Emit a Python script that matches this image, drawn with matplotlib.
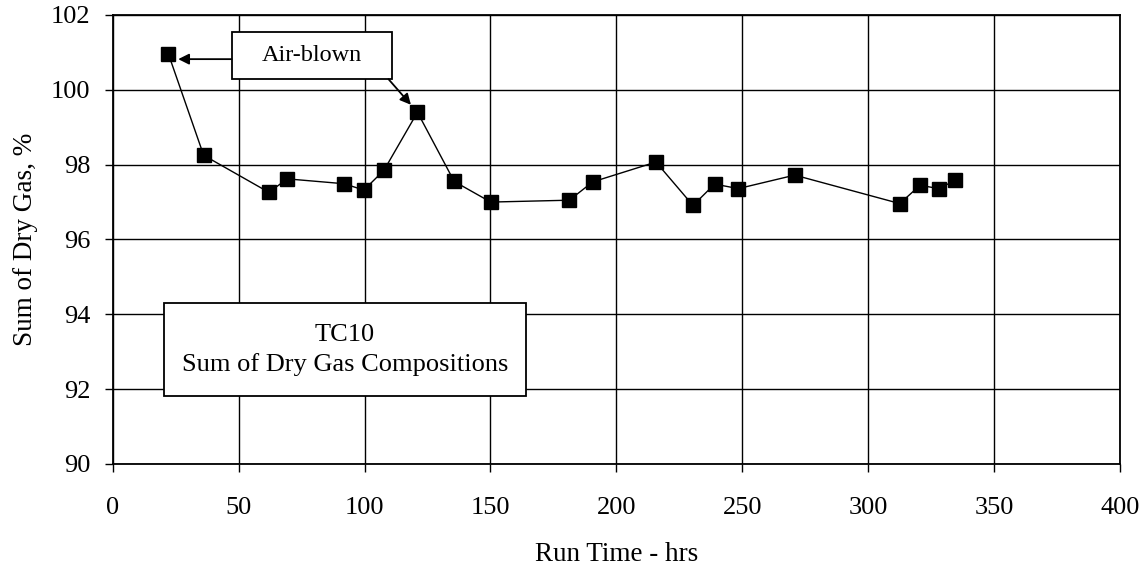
import matplotlib
matplotlib.use("Agg")
import matplotlib.pyplot as plt
from matplotlib.patches import Rectangle

plt.rcParams['font.family'] = ['Liberation Serif', 'DejaVu Serif']

# run time (hrs) and sum of dry gas (%)
run_time = [22.1, 36.1, 62.0, 69.3, 91.9, 99.7, 107.7, 121.0, 135.6, 150.1,
            181.3, 190.6, 215.7, 230.4, 239.0, 248.4, 270.8, 312.5, 320.6,
            327.9, 334.6]
dry_gas_sum = [100.96, 98.25, 97.26, 97.62, 97.49, 97.32, 97.85, 99.40, 97.55,
               97.00, 97.05, 97.54, 98.07, 96.91, 97.48, 97.36, 97.72, 96.96,
               97.45, 97.36, 97.58]

fig = plt.figure(figsize=(11.48, 5.70), dpi=100)
ax = fig.add_axes([0.0982, 0.186, 0.8775, 0.7877])

ax.plot(run_time, dry_gas_sum, color='black', lw=1, marker='s', ms=9.5,
        mfc='black', mec='black', zorder=3)

ax.set_xlim(0, 400)
ax.set_ylim(90, 102)
ax.set_xticks(range(0, 401, 50))
ax.set_yticks(range(90, 103, 2))
ax.grid(True, color='black', lw=1)
ax.set_axisbelow(True)
for s in ax.spines.values():
    s.set_linewidth(1.3)
ax.tick_params(direction='out', length=6, width=1, labelsize=19)
ax.tick_params(axis='x', pad=18)
ax.tick_params(axis='y', pad=10)

ax.set_xlabel('Run Time - hrs', fontsize=19.5, labelpad=16)
ax.set_ylabel('Sum of Dry Gas, %', fontsize=19.5, labelpad=9)

# "Air-blown" note box with two arrows
ax.add_patch(Rectangle((47.2, 100.285), 63.5, 1.27, fc='white', ec='black',
                       lw=1.3, zorder=4))
ax.text(79.0, 100.92, 'Air-blown', fontsize=17.5, ha='center', va='center',
        zorder=5)
arrow = dict(arrowstyle='-|>', color='black', lw=1.3, mutation_scale=16,
             shrinkA=0, shrinkB=0)
ax.annotate('', xy=(26.0, 100.82), xytext=(47.2, 100.82), arrowprops=arrow,
            zorder=4)
ax.annotate('', xy=(118.4, 99.6), xytext=(109.5, 100.285), arrowprops=arrow,
            zorder=4)

# title box
ax.add_patch(Rectangle((20.5, 91.82), 143.5, 2.49, fc='white', ec='black',
                       lw=1.3, zorder=4))
ax.text(92.2, 93.05, 'TC10\nSum of Dry Gas Compositions', fontsize=19,
        ha='center', va='center', linespacing=1.4, zorder=5)

fig.savefig('out.png', dpi=100)
